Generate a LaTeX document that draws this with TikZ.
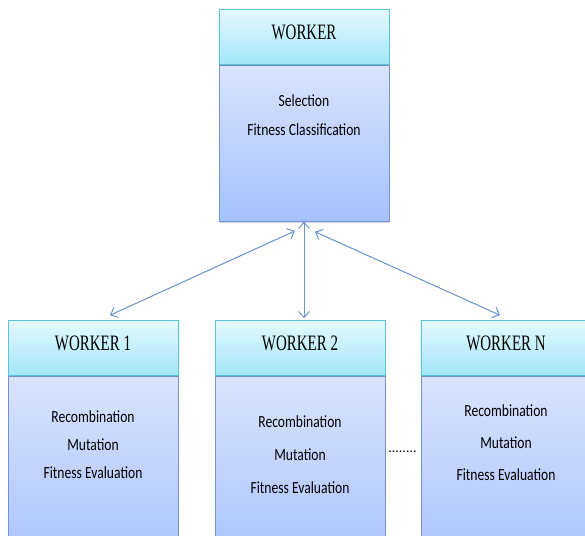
\documentclass[tikz,border=0pt]{standalone}
\usepackage{fontspec}
\setmainfont{Carlito}
\newfontfamily\headfont[FakeStretch=0.68]{Liberation Serif}
\newfontfamily\bodyfont[FakeStretch=0.8]{Carlito}
\usetikzlibrary{positioning, calc, arrows.meta, shadows}

\definecolor{headtop}{HTML}{E4F9FE}
\definecolor{headbot}{HTML}{A2E6F8}
\definecolor{headline}{HTML}{5CC3DC}
\definecolor{bodytop}{HTML}{D9E3FD}
\definecolor{bodybot}{HTML}{A6C1FD}
\definecolor{bodyline}{HTML}{6F93D3}
\definecolor{linkcol}{HTML}{6A93CC}

\begin{document}
\begin{tikzpicture}[x=1pt, y=-1pt,
    boxshadow/.style={drop shadow={opacity=0.3, shadow xshift=1.2pt, shadow yshift=-1.5pt}},
    header/.style={rectangle, draw=headline, line width=0.8pt, top color=headtop, bottom color=headbot,
      minimum width=170pt, minimum height=55pt, inner sep=0pt, text height=16pt, text depth=12pt,
      boxshadow, font=\headfont\fontsize{22}{26}\selectfont},
    worker/.style={rectangle, draw=bodyline, line width=0.8pt, top color=bodytop, bottom color=bodybot,
      minimum width=170pt, inner sep=0pt, boxshadow},
    tasks/.style={inner sep=0pt, align=center, font=\bodyfont\fontsize{17}{#1}\selectfont},
    tasks/.default=29pt,
    link/.style={draw=linkcol, line width=1pt,
      {Straight Barb[length=6pt, width=11pt]}-{Straight Barb[length=6pt, width=11pt]}}]

  \path[use as bounding box, clip] (0,0) rectangle (585,535);

  % master
  \node[worker, minimum height=156pt, anchor=north] (mb) at (304,65) {};
  \node[header, above=0pt of mb] (mh) {WORKER};
  \node[tasks, below=29pt of mh.south] (mt) {Selection\\Fitness Classification};

  % workers
  \node[worker, minimum height=200pt, anchor=north] (b1) at (93,376) {};
  \node[header, above=0pt of b1] (h1) {WORKER 1};
  \node[tasks=28pt, below=34pt of h1.south] (t1) {Recombination\\Mutation\\Fitness Evaluation};

  \node[worker, minimum height=200pt, anchor=north] (b2) at (300,376) {};
  \node[header, above=0pt of b2] (h2) {WORKER 2};
  \node[tasks=33pt, below=39pt of h2.south] (t2) {Recombination\\Mutation\\Fitness Evaluation};

  \node[worker, minimum height=200pt, anchor=north] (bN) at (506,376) {};
  \node[header, above=0pt of bN] (hN) {WORKER N};
  \node[tasks=32pt, below=28pt of hN.south] (tN) {Recombination\\Mutation\\Fitness Evaluation};

  \node[font=\fontsize{14}{16}\selectfont, inner sep=0pt] (gap) at (402.5,452) {........};

  % links
  \coordinate (hub) at ($(mb.south)+(0,5)$);
  \coordinate (e1) at ($(h1.north)+(17,-5)$);
  \coordinate (eN) at ($(hN.north)+(-6,-5)$);
  \draw[link, shorten <=10pt] (hub) -- (e1);
  \draw[link, shorten <=12pt] (hub) -- (eN);
  \draw[link, shorten >=2pt] (mb.south) -- (mb.south |- h2.north);
\end{tikzpicture}
\end{document}
